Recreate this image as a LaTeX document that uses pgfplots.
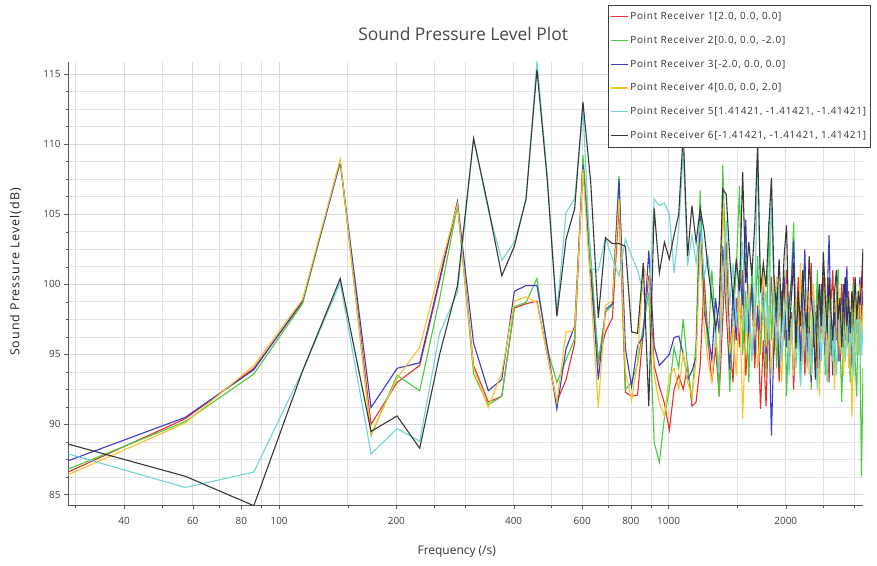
\documentclass[border=0pt]{standalone}
\usepackage{fontspec}
\setmainfont{Open Sans}
\newfontfamily\ylabfont[LetterSpace=8]{Open Sans}
\newfontfamily\legfont[LetterSpace=7]{Open Sans}
\usepackage{pgfplots}
\usepackage{pgfplotstable}
\pgfplotsset{compat=1.18}
\definecolor{cR}{RGB}{235,45,45}
\definecolor{cG}{RGB}{70,205,60}
\definecolor{cB}{RGB}{60,60,200}
\definecolor{cY}{RGB}{250,195,40}
\definecolor{cC}{RGB}{110,215,210}
\definecolor{cK}{RGB}{55,55,55}
\pgfplotstableread{
f r1 r2 r3 r4 r5 r6
28.7 86.6 86.8 87.4 86.4 87.9 88.6
57.4 90.4 90.2 90.5 90.1 85.5 86.3
86.1 94.0 93.6 93.9 94.2 86.6 84.2
114.8 98.7 98.6 98.8 98.9 93.8 93.8
143.5 108.8 108.8 108.7 108.9 100.1 100.4
172.2 90.0 89.2 91.2 89.3 87.9 89.5
200.9 93.0 93.5 94.0 93.3 89.7 90.6
229.6 94.2 92.4 94.4 95.5 88.8 88.3
258.3 100.2 99.0 100.4 101.0 96.5 95.0
287.0 105.8 105.6 105.9 105.7 99.4 99.9
315.7 94.2 93.6 95.8 94.0 110.4 110.4
344.4 91.6 91.4 92.4 91.2 105.3 105.5
373.1 92.0 92.0 93.2 93.7 101.7 100.6
401.8 98.3 98.4 99.5 98.8 103.0 102.7
430.5 98.6 98.7 99.9 99.1 106.0 106.1
459.2 98.8 100.4 99.9 98.7 115.9 115.3
487.9 95.0 95.4 95.6 95.0 107.8 107.5
516.6 91.6 93.0 91.1 91.6 98.0 97.7
545.3 93.2 94.6 95.4 96.6 105.1 103.2
574.0 95.8 96.1 97.0 96.7 106.1 105.4
602.7 108.5 109.2 108.5 108.2 112.5 113.0
631.4 101.5 102.0 100.8 99.5 101.1 107.2
660.1 94.4 94.5 93.2 91.2 101.0 97.6
688.8 96.6 98.0 98.2 98.5 103.3 103.3
717.5 97.6 98.5 98.6 98.8 101.8 102.9
746.2 105.6 107.7 107.5 106.1 100.6 102.9
774.9 92.3 92.5 95.4 93.8 103.2 102.7
803.6 92.0 93.0 92.7 91.7 102.0 96.6
832.3 92.1 94.3 95.6 94.5 101.0 96.5
861.0 96.6 97.0 96.3 101.3 99.4 101.5
889.7 100.6 99.4 102.4 100.0 98.5 91.3
918.4 94.2 88.7 95.6 93.5 106.1 105.4
947.1 92.7 87.3 94.2 91.5 105.6 100.8
975.8 91.5 90.5 94.6 90.6 105.8 103.0
1004.5 89.6 92.5 95.0 93.5 105.0 101.8
1033.2 92.5 95.5 96.2 94.0 100.8 103.5
1061.9 93.5 94.0 96.3 92.5 104.0 105.0
1090.6 92.5 97.5 95.0 95.1 109.5 110.8
1119.3 94.2 94.0 93.2 93.0 101.3 102.0
1148.0 91.3 91.8 93.8 92.0 103.5 105.6
1176.7 91.6 96.0 94.8 94.5 101.5 103.0
1205.4 94.2 106.7 104.9 103.0 104.5 105.4
1234.1 100.5 99.0 98.0 97.0 100.5 103.8
1262.8 96.0 95.5 96.5 94.5 102.0 101.1
1291.5 93.0 101.0 94.6 93.0 99.5 99.0
1320.2 95.5 97.0 99.0 96.5 96.0 96.8
1348.9 92.0 92.0 96.5 94.0 93.7 98.5
1377.6 97.5 108.5 102.7 106.0 100.0 106.8
1406.3 103.0 100.5 98.0 99.0 104.5 106.4
1435.0 96.0 92.3 93.9 95.0 98.5 102.0
1463.7 93.0 97.5 99.5 97.0 101.5 98.9
1492.4 99.0 101.0 96.0 93.5 97.0 101.8
1521.1 95.5 107.0 101.0 99.5 100.0 99.5
1549.8 101.0 95.0 98.5 90.4 103.0 108.0
1578.5 93.5 99.5 104.6 97.0 96.5 100.1
1607.2 97.0 93.0 96.5 100.0 99.0 103.0
1635.9 100.0 101.5 100.0 95.0 94.5 100.6
1664.6 94.0 97.0 95.0 98.5 98.0 104.2
1693.3 98.5 102.0 98.0 94.0 109.5 110.0
1722.0 91.1 95.0 96.5 97.0 100.0 99.4
1750.7 96.0 99.0 100.4 101.0 97.5 101.5
1779.4 91.3 93.5 95.0 95.5 99.5 99.8
1808.1 97.5 104.5 98.0 98.5 96.0 104.0
1836.8 100.5 96.0 89.2 93.5 107.0 107.6
1865.5 95.0 100.5 96.0 97.5 98.5 100.5
1894.2 98.5 94.0 99.5 100.5 95.5 98.0
1922.9 93.0 98.5 94.0 96.0 100.0 101.8
1951.6 99.5 96.5 97.5 93.0 94.5 97.5
1980.3 96.0 101.0 100.5 98.0 97.5 102.0
2009.0 101.0 92.0 95.5 100.0 99.0 104.2
2037.7 94.5 98.0 98.5 95.0 93.5 96.0
2066.4 98.0 100.5 100.0 97.5 96.5 99.0
2095.1 92.5 104.4 103.1 93.5 98.5 101.5
2123.8 97.0 95.5 96.0 99.0 94.0 95.4
2152.5 100.5 97.5 99.0 96.0 97.0 99.5
2181.2 95.0 93.0 94.5 101.5 92.7 97.0
2209.9 98.5 99.5 98.5 94.5 95.5 101.0
2238.6 93.5 101.5 102.5 97.0 98.0 98.0
2267.3 99.0 95.0 95.1 99.5 94.0 96.5
2296.0 96.0 98.0 97.0 93.5 96.5 102.0
2324.7 101.5 92.5 93.0 96.5 93.5 99.0
2353.4 95.5 99.0 99.5 100.0 99.0 97.5
2382.1 98.0 96.5 96.0 95.0 95.0 93.2
2410.8 94.0 101.0 98.5 97.5 92.5 98.0
2439.5 99.5 94.5 94.0 92.0 97.0 100.0
2468.2 96.5 97.5 100.0 98.0 94.5 97.0
2496.9 100.5 99.5 97.0 96.0 98.5 102.3
2525.6 95.0 93.5 95.0 100.5 95.5 99.0
2554.3 97.5 98.0 99.0 94.5 93.0 96.5
2583.0 93.0 100.0 103.5 97.0 96.5 100.5
2611.7 98.5 95.0 97.0 99.0 98.5 98.0
2640.4 101.0 97.0 93.5 95.5 94.5 96.0
2669.1 96.0 93.5 98.0 92.5 97.0 99.5
2697.8 99.0 99.0 96.0 97.5 93.5 101.0
2726.5 94.5 101.1 99.5 100.0 96.0 97.5
2755.2 97.5 96.0 94.5 95.0 99.0 99.0
2783.9 100.0 91.6 97.5 98.0 95.0 95.5
2812.6 95.5 97.0 100.0 93.5 97.5 98.5
2841.3 98.0 99.5 96.0 96.5 94.5 100.5
2870.0 96.0 95.5 101.3 99.0 96.5 97.0
2898.7 99.5 98.0 95.5 94.0 98.5 99.0
2927.4 94.5 93.0 98.0 97.0 95.0 96.5
2956.1 97.0 96.5 94.0 90.5 97.0 99.5
2984.8 100.5 100.0 97.5 96.0 93.5 98.0
3013.5 96.0 94.5 99.5 99.5 96.0 100.5
3042.2 98.5 92.0 95.5 95.0 98.5 97.5
3070.9 95.0 98.5 98.0 97.5 95.0 99.5
3099.6 99.0 96.0 100.5 100.0 97.5 98.5
3128.3 97.5 86.3 96.5 96.0 94.9 100.0
3157.0 102.3 94.0 99.5 98.5 97.0 102.5
}\spl
\begin{document}
\begin{tikzpicture}
\path[use as bounding box] (-68bp,-61bp) rectangle (809bp,505bp);
\begin{axis}[
  at={(0,0)}, anchor=south west,
  scale only axis, width=795bp, height=443bp,
  xmode=log, log basis x=10,
  xmin=28.7, xmax=3157, ymin=84.25, ymax=115.85,
  axis x line*=bottom, axis y line*=left,
  axis line style={black!65, line width=0.8bp},
  xtick={40,60,80,100,200,400,600,800,1000,2000},
  xticklabels={40,60,80,100,200,400,600,800,1000,2000},
  minor xtick={30,50,70,90,150,250,300,500,700,900,1500,2500,3000},
  ytick={85,90,95,100,105,110,115},
  minor ytick={86.25,87.5,88.75,91.25,92.5,93.75,96.25,97.5,98.75,101.25,102.5,103.75,106.25,107.5,108.75,111.25,112.5,113.75},
  grid=both,
  major grid style={black!15, line width=0.6bp},
  minor grid style={black!11, line width=0.5bp},
  tick align=outside,
  major tick length=4bp, minor tick length=2.5bp,
  tick style={black!65},
  /pgf/number format/assume math mode=true,
  tick label style={font=\fontsize{10}{12}\selectfont, text=black!75},
  xticklabel style={yshift=-5bp},
  title={Sound Pressure Level Plot},
  title style={at={(axis description cs:0.497,1.05)}, anchor=center, font=\fontsize{17.5}{20}\selectfont, text=black!72},
  xlabel={Frequency (/s)},
  xlabel style={at={(axis description cs:0.489,-0.106)}, anchor=center, font=\fontsize{12}{14}\selectfont, text=black!80},
  ylabel={\ylabfont Sound Pressure Level(dB)},
  ylabel style={at={(axis description cs:-0.066,0.526)}, anchor=center, font=\fontsize{12.5}{14}\selectfont, text=black!85},
  legend style={at={(axis description cs:0.679,1.129)}, anchor=north west,
    draw=black!75, line width=0.8bp, fill=white,
    font=\fontsize{10}{12}\selectfont\legfont, text=black!80,
    row sep=11bp, inner xsep=2bp, inner ysep=5bp,
    legend cell align=left},
  every axis plot/.append style={line width=1.1bp},
  clip=true,
]
\addplot[cR] table[x=f,y=r1] {\spl};
\addplot[cG] table[x=f,y=r2] {\spl};
\addplot[cB] table[x=f,y=r3] {\spl};
\addplot[cY] table[x=f,y=r4] {\spl};
\addplot[cC] table[x=f,y=r5] {\spl};
\addplot[cK] table[x=f,y=r6] {\spl};
\addlegendimage{cR, line width=1.6bp, legend image code/.code={\draw (0bp,0bp) -- (21bp,0bp);}}
\addlegendentry{Point Receiver 1[2.0, 0.0, 0.0]}
\addlegendimage{cG, line width=1.6bp, legend image code/.code={\draw (0bp,0bp) -- (21bp,0bp);}}
\addlegendentry{Point Receiver 2[0.0, 0.0, -2.0]}
\addlegendimage{cB, line width=1.6bp, legend image code/.code={\draw (0bp,0bp) -- (21bp,0bp);}}
\addlegendentry{Point Receiver 3[-2.0, 0.0, 0.0]}
\addlegendimage{cY, line width=1.6bp, legend image code/.code={\draw (0bp,0bp) -- (21bp,0bp);}}
\addlegendentry{Point Receiver 4[0.0, 0.0, 2.0]}
\addlegendimage{cC, line width=1.6bp, legend image code/.code={\draw (0bp,0bp) -- (21bp,0bp);}}
\addlegendentry{Point Receiver 5[1.41421, -1.41421, -1.41421]}
\addlegendimage{cK, line width=1.6bp, legend image code/.code={\draw (0bp,0bp) -- (21bp,0bp);}}
\addlegendentry{Point Receiver 6[-1.41421, -1.41421, 1.41421]}
\end{axis}
\end{tikzpicture}
\end{document}
